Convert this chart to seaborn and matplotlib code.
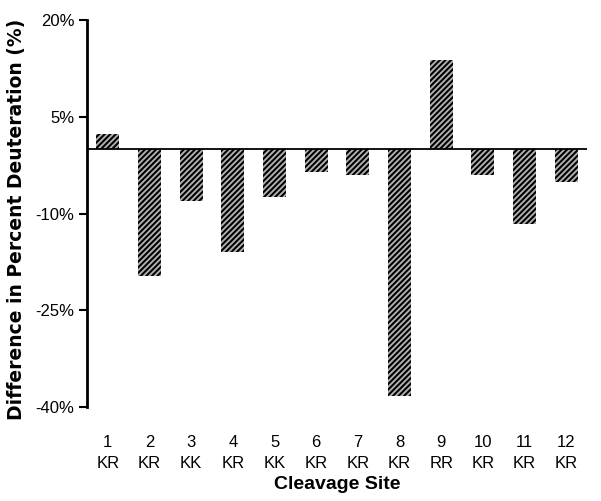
import matplotlib
matplotlib.use('Agg')
import matplotlib.pyplot as plt
import seaborn as sns
import pandas as pd

# values
sites = ['1', '2', '3', '4', '5', '6', '7', '8', '9', '10', '11', '12']
residues = ['KR', 'KR', 'KK', 'KR', 'KK', 'KR', 'KR', 'KR', 'RR', 'KR', 'KR', 'KR']
diff_pct = [2.3, -19.7, -8.0, -15.9, -7.4, -3.5, -4.1, -38.3, 13.8, -4.0, -11.6, -5.1]
yticks = [20, 5, -10, -25, -40]

labels = [f"{s}\n{r}" for s, r in zip(sites, residues)]
df = pd.DataFrame({'site': labels, 'diff': diff_pct})

sns.set_style('white')
plt.rcParams['font.family'] = ['Liberation Sans Narrow', 'Liberation Sans', 'DejaVu Sans']
plt.rcParams['hatch.linewidth'] = 1.5
plt.rcParams['text.color'] = 'black'
plt.rcParams['xtick.color'] = 'black'
plt.rcParams['ytick.color'] = 'black'
plt.rcParams['axes.labelcolor'] = 'black'

fig = plt.figure(figsize=(6.01, 5.01), dpi=100)
ax = fig.add_axes([0.1448, 0.1876, 0.832, 0.7724])

sns.barplot(data=df, x='site', y='diff', color='#b4b4b4', width=0.55,
            linewidth=0, edgecolor='black', ax=ax)
for bar in ax.patches:
    bar.set_hatch('//////')
    bar.set_edgecolor('black')
    bar.set_linewidth(0)

ax.axhline(0, color='black', lw=1.3)
ax.set_ylim(-40, 20)
ax.set_xlim(-0.5, len(sites) - 0.5)
ax.set_yticks(yticks)
ax.set_yticklabels([f"{t}%" for t in yticks], fontsize=12)
ax.tick_params(axis='y', direction='out', length=6, width=1.5, left=True, pad=3)
ax.tick_params(axis='x', length=0, pad=20, labelsize=12)
for lab in ax.get_xticklabels():
    lab.set_linespacing(1.5)

for side in ['top', 'right', 'bottom']:
    ax.spines[side].set_visible(False)
ax.spines['left'].set_linewidth(2)
ax.spines['left'].set_color('black')

ax.set_xlabel('Cleavage Site', fontsize=14, fontweight='bold', labelpad=4)
ax.set_ylabel('Difference in Percent Deuteration (%)', fontsize=13.5,
              fontweight='bold', family=['DejaVu Sans'])
ax.yaxis.set_label_coords(-0.123, 0.485)

fig.savefig('out.png', dpi=100)
